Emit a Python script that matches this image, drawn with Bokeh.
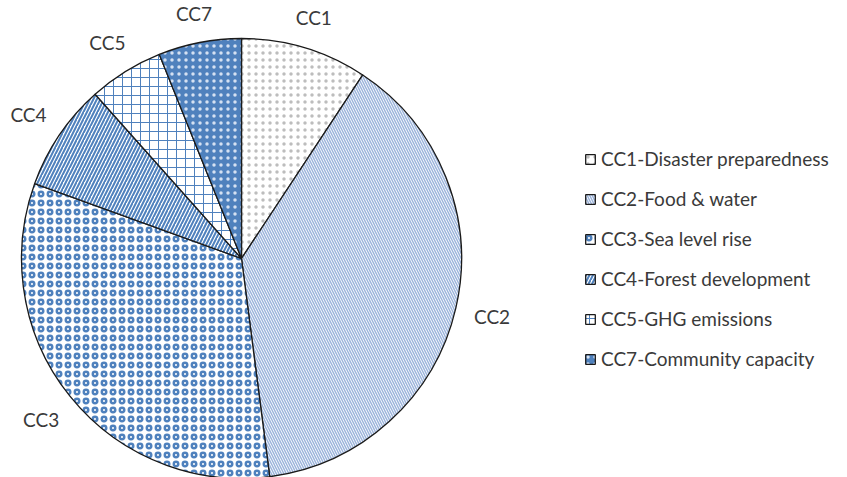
import math
from bokeh.plotting import figure
from bokeh.models import ColumnDataSource, Range1d, Legend, LegendItem
from bokeh.core.properties import value
from bokeh.embed import file_html
from bokeh.resources import INLINE

# ---- data ----
codes = ["CC1", "CC2", "CC3", "CC4", "CC5", "CC7"]
legend_names = [
    "CC1-Disaster preparedness",
    "CC2-Food & water",
    "CC3-Sea level rise",
    "CC4-Forest development",
    "CC5-GHG emissions",
    "CC7-Community capacity",
]
shares = [9.3, 38.7, 32.6, 7.9, 5.5, 6.1]

# ---- styles ----
BLUE = "#4F81BD"
fills = ["white", "white", "white", "white", "white", BLUE]
hatch_patterns = ["dot", "left_diagonal_line", "ring",
                  "right_diagonal_line", "cross", "dot"]
hatch_colors = ["#bdbdbd", "#9DB5DC", BLUE, BLUE, BLUE, "#d5e1f2"]
hatch_scales = [7, 5, 9, 7, 9, 7]
hatch_weights = [0.5, 1.5, 2.4, 2, 1, 0.5]

W, H = 847, 477
CX, CY = 241, H - 258   # pie centre (y measured up from the bottom)
R = 220
GAP = 20                # gap between pie edge and label box
LW, LH = 32, 14         # approximate label box

total = sum(shares)
starts, ends, mids = [], [], []
cum = 0.0
for s in shares:
    a0 = math.pi / 2 - 2 * math.pi * cum / total
    cum += s
    a1 = math.pi / 2 - 2 * math.pi * cum / total
    starts.append(a0)
    ends.append(a1)
    mids.append((a0 + a1) / 2)

src = ColumnDataSource(dict(
    x=[CX] * len(codes), y=[CY] * len(codes),
    start=starts, end=ends, name=legend_names,
    fill=fills, hp=hatch_patterns, hc=hatch_colors,
    hs=hatch_scales, hw=hatch_weights,
))

p = figure(width=W, height=H, output_backend="svg", toolbar_location=None,
           x_range=Range1d(0, W), y_range=Range1d(0, H),
           min_border=0, outline_line_color=None)
p.axis.visible = False
p.grid.visible = False
p.background_fill_color = "white"
p.border_fill_color = "white"

r = p.wedge(x="x", y="y", radius=R, start_angle="start", end_angle="end",
            direction="clock", source=src,
            fill_color="fill", line_color="#1a1a1a", line_width=1.3,
            hatch_pattern="hp", hatch_color="hc", hatch_scale="hs",
            hatch_weight="hw")

lx, ly = [], []
for m in mids:
    ext = (LW / 2) * abs(math.cos(m)) + (LH / 2) * abs(math.sin(m))
    rr = R + GAP + ext
    lx.append(CX + rr * math.cos(m))
    ly.append(CY + rr * math.sin(m))

lab_src = ColumnDataSource(dict(x=lx, y=ly, t=codes))
p.text(x="x", y="y", text="t", source=lab_src, text_align="center",
       text_baseline="middle", text_font=value("Lato"), text_font_size="19px",
       text_color="#3a3a3a")

items = [LegendItem(label=legend_names[i], renderers=[r], index=i)
         for i in range(len(codes))]
legend = Legend(items=items, location=(584, 107),
                glyph_width=12, glyph_height=12, label_height=20,
                spacing=17, padding=0, margin=0, label_standoff=5,
                label_text_font="Lato", label_text_font_size="19px",
                label_text_color="#3a3a3a",
                border_line_color=None, background_fill_alpha=0)
p.add_layout(legend)

open("out.html", "w").write(file_html(p, INLINE))
